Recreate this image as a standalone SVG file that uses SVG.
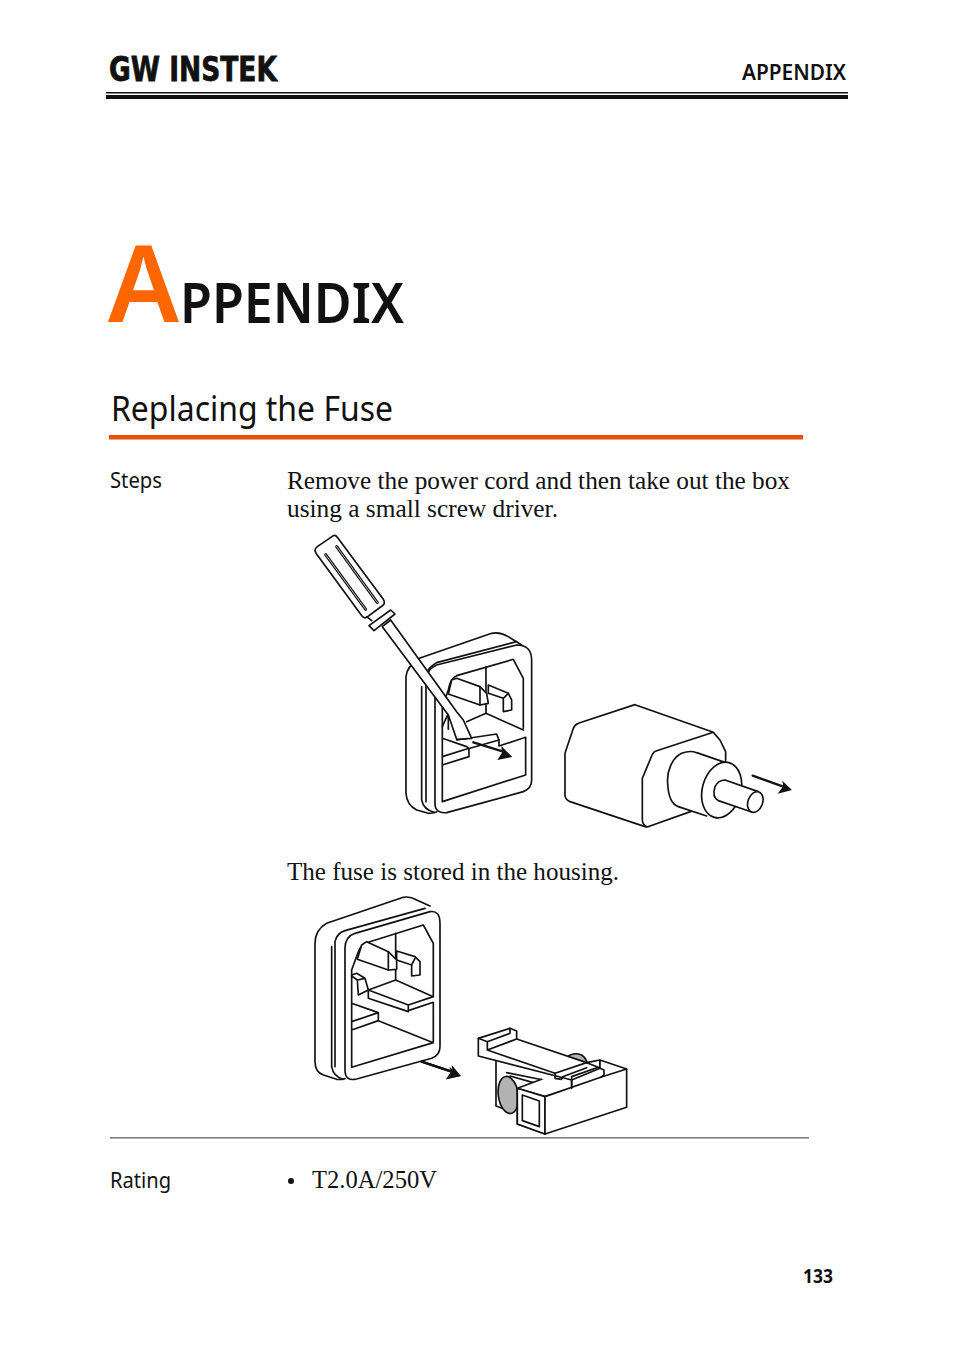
<svg xmlns="http://www.w3.org/2000/svg" width="954" height="1354" viewBox="0 0 954 1354">
<style>
.s{font-family:"Noto Sans","Open Sans",sans-serif;fill:#111}
.b{font-family:"Liberation Serif","DejaVu Serif",serif;font-size:25px;fill:#111}
.d{fill:none;stroke:#111;stroke-width:5;stroke-linejoin:round;stroke-linecap:round}
.a{fill:none;stroke:#111;stroke-width:7;stroke-linecap:round}
.o{fill:none;stroke:#111;stroke-width:9;stroke-linecap:round}
.i{fill:none;stroke:#ddd;stroke-width:2.5;stroke-linecap:round}
.w{fill:#fff}
.g{fill:#b3b3b3}
.h{fill:#111;stroke:none}
</style>
<rect width="954" height="1354" fill="#fff"/>
<g id="header">
<text x="109" y="81" font-family="DejaVu Sans" font-weight="700" font-size="33" fill="#111" stroke="#111" stroke-width=".8" textLength="168" lengthAdjust="spacingAndGlyphs">GW INSTEK</text>
<text class="s" x="742" y="80" font-size="21" font-weight="600" textLength="104" lengthAdjust="spacingAndGlyphs">APPENDIX</text>
<rect x="106" y="92" width="742" height="1.5" fill="#111"/>
<rect x="106" y="95" width="742" height="4" fill="#111"/>
</g>
<g id="title">
<text class="s" x="108" y="322" font-size="106" font-weight="600" style="fill:#ff6600" textLength="71" lengthAdjust="spacingAndGlyphs">A</text>
<text class="s" x="180" y="323" font-size="56" font-weight="600" textLength="224" lengthAdjust="spacingAndGlyphs">PPENDIX</text>
<text class="s" x="111" y="421" font-size="35" textLength="282" lengthAdjust="spacingAndGlyphs">Replacing the Fuse</text>
<rect x="109" y="435" width="694" height="4.5" fill="#e8500a"/>
</g>
<g id="body">
<text class="s" x="110" y="488" font-size="21" textLength="52" lengthAdjust="spacingAndGlyphs">Steps</text>
<text class="b" x="287" y="489" textLength="503" lengthAdjust="spacingAndGlyphs">Remove the power cord and then take out the box</text>
<text class="b" x="287" y="517" textLength="271" lengthAdjust="spacingAndGlyphs">using a small screw driver.</text>
<text class="b" x="287" y="880" textLength="332" lengthAdjust="spacingAndGlyphs">The fuse is stored in the housing.</text>
<rect x="110" y="1137" width="699" height="1.6" fill="#808080"/>
<text class="s" x="110" y="1188" font-size="21" textLength="61" lengthAdjust="spacingAndGlyphs">Rating</text>
<circle cx="291" cy="1181" r="3" fill="#111"/>
<text class="b" x="312" y="1188" textLength="125" lengthAdjust="spacingAndGlyphs">T2.0A/250V</text>
<text class="s" x="803" y="1283" font-size="19" font-weight="700" textLength="30" lengthAdjust="spacingAndGlyphs">133</text>
</g>
<g id="socket-with-screwdriver" transform="translate(300 530) scale(.3333)">
<path class="d" d="M358,385L575,310Q600,305 625,320L665,345M358,385Q320,410 318,440L318,790Q320,825 350,840L385,850Q395,850 410,846M365,470L365,810Q370,840 405,848M378,450L378,815M385,420Q390,410 410,398L650,335"/>
<path class="d w" d="M380,440Q385,415 410,405L650,345Q695,345 695,390L695,750Q695,775 670,785L440,848Q405,852 405,820L405,470Q380,450 380,440Z"/>
<path class="d" d="M470,437L640,388L670,445L670,595M470,437Q450,445 445,480L427,530L427,815L677,735L677,622L597,648L597,630M427,625L500,650L507,655L507,680L427,705M427,680L507,655M558,410L558,550L500,575M558,550L670,600"/>
<path class="d w" d="M565,465L625,490L635,510L635,540L610,545L610,505L565,490Z"/>
<path class="d" d="M610,505L625,490"/>
<path class="d w" d="M455,450L470,445L540,470L560,490L565,520L540,525L445,492Z"/>
<path class="d" d="M540,470L540,525M427,590L445,550L470,595M445,550L445,598"/>
<path class="d" d="M470,630L590,612L597,630L510,655"/>
<path class="d w" d="M247,290L445,555L470,628L515,625L490,570L470,545L272,270Z"/>
<path class="d w" d="M45,62Q45,55 52,50L100,17Q107,14 112,22L250,208Q256,218 250,225L200,262Q192,266 186,258L48,70Z"/>
<path class="o" d="M77,74L197,238M110,50L232,218"/>
<path class="i" d="M77,74L197,238M110,50L232,218"/>
<path class="d w" d="M207,287L272,240L285,252L222,302ZM200,260L215,272"/>
<path class="a" d="M520,637L610,665"/>
<path class="h" d="M637,681L592,690L606,668L604,648Z"/>
</g>
<g id="fuse-box" transform="translate(550 690) scale(.3333)">
<path class="d" d="M255,44L85,100Q75,103 70,115L45,190L45,315Q45,328 60,335L285,410Q292,412 300,408L430,362M255,44L490,127L510,150L527,185L527,218M490,127L318,183Q310,185 305,198L277,265L277,390Q278,405 290,410"/>
<path class="d w" d="M527,218L440,188Q420,180 395,190C365,205 350,245 353,280C355,325 370,345 385,350L470,378"/>
<ellipse class="d w" cx="515" cy="300" rx="58" ry="85" transform="rotate(15 515 300)"/>
<path class="d w" d="M525,270Q505,270 495,290Q485,320 505,332L605,366L625,305Z"/>
<ellipse class="d w" cx="616" cy="336" rx="22" ry="32" transform="rotate(20 616 336)"/>
<path class="a" d="M608,257L700,290"/>
<path class="h" d="M726,300L697,272L700,288L683,311Z"/>
</g>
<g id="socket-open" transform="translate(300 890) scale(.3333)">
<path class="d" d="M80,100L310,22Q330,18 350,30L390,48M80,100Q45,120 45,160L45,515Q45,545 70,555L110,568Q120,570 135,566M95,170L95,530Q100,560 130,568M105,155Q110,130 135,122L375,55M105,155L105,530"/>
<path class="d w" d="M135,175Q135,140 165,130L390,65Q420,60 420,100L420,470Q420,495 395,505L170,567Q135,575 135,540Z"/>
<path class="d" d="M155,240L175,185Q180,170 195,160L370,105L400,160L400,320M155,240L155,532L400,458L400,337L325,362M155,340L235,368L235,392L155,420M155,395L235,368M235,392L400,458M287,130L287,270M205,300L287,270L400,320L325,345ZM205,300L205,325L325,365L325,345"/>
<path class="d w" d="M290,183L345,200L360,215L360,255L335,258L335,225L290,210Z"/>
<path class="d" d="M335,225L345,205"/>
<path class="d w" d="M185,165L200,155L265,185L290,210L290,238L265,240L172,208Z"/>
<path class="d" d="M265,185L265,240M155,255L170,250L195,265L205,300L175,315L172,270L155,258M172,270L195,265"/>
<path class="a" d="M365,515L455,545"/>
<path class="h" d="M482,558L448,530L453,545L438,568Z"/>
</g>
<g id="fuse-holder" transform="translate(410 1020) scale(.3333)">
<path class="a" d="M35,125L125,155"/>
<path class="h" d="M153,168L125,135L128,155L108,178Z"/>
<path class="d" d="M258,125L258,258L285,268"/>
<path class="d g" d="M470,112Q490,95 515,105Q530,115 532,132L470,112Z"/>
<ellipse class="d g" cx="295" cy="225" rx="30" ry="56" transform="rotate(-8 295 225)"/>
<path class="d" d="M300,168L370,188M290,158L400,180"/>
<path class="w" d="M322,205L395,178L485,180L485,205L405,230Z"/>
<path class="d" d="M322,205L395,178M485,180L485,205L405,230L322,205M322,205L322,312L405,342L405,230"/>
<path class="w" d="M322,205L405,230L405,342L322,312Z"/>
<path class="d" d="M322,205L405,230L405,342L322,312Z"/>
<path class="d w" d="M205,55L300,25L320,33L320,57L530,128L570,120L570,145L485,180L205,108Z"/>
<path class="d" d="M205,55L232,65L232,90L435,160L530,128M232,65L300,40L300,25M232,90L320,57"/>
<path class="d w" d="M405,230L572,172L582,165L582,150L570,145L570,120L650,147L650,262L405,342Z"/>
<path class="d" d="M435,160L435,175L455,178L458,170L530,143M530,128L565,142L485,170M485,170L485,205M572,172L650,147"/>
<path class="d w" d="M337,225L388,243L388,320L337,302Z"/>
</g>
</svg>
